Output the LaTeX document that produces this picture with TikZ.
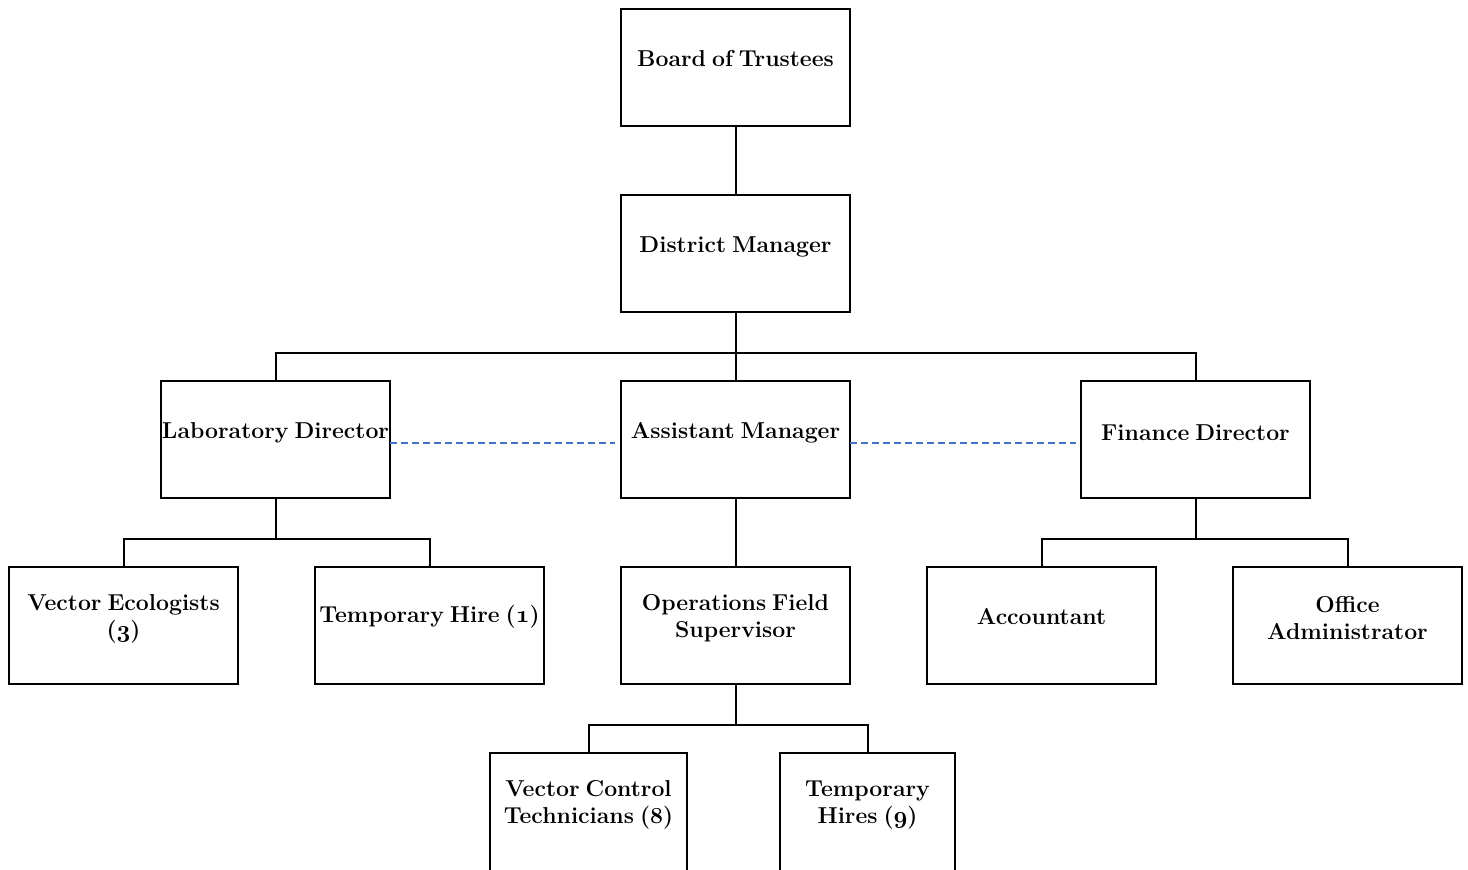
\documentclass[tikz,border=0pt]{standalone}
\usetikzlibrary{positioning}
\definecolor{liaisonblue}{RGB}{68,114,196}
\newcommand\osnum[1]{{\usefont{OML}{cmm}{b}{it}#1}}
\newcommand\tightwords{\spaceskip=0.26em plus 0.1em\relax}
\begin{document}
\begin{tikzpicture}[
	x=0.5pt, y=-0.5pt,
	line width=1pt,
	unit/.style={draw, minimum width=114.5pt, minimum height=58.5pt,
		inner sep=0pt, outer sep=0pt},
	caption/.style={font=\fontsize{11.5}{13.5}\selectfont\bfseries,
		execute at begin node=\tightwords,
		align=center, inner sep=0pt, yshift=3.5pt},
	liaison/.style={draw=liaisonblue, line width=0.9pt,
		dash pattern=on 3.5pt off 2pt}]
\path[use as bounding box, clip] (0,0) rectangle (1468,869);
% top of the chart
\node[unit, label={[caption, yshift=1pt]center:Board of Trustees}] (board) at (735.5,67.5) {};
\node[unit, below=34.5pt of board, label={[caption]center:District Manager}] (district) {};
% directors
\node[unit, below=34.5pt of district, label={[caption]center:Assistant Manager}] (assistant) {};
\node[unit, left=115.5pt of assistant, label={[caption]center:Laboratory Director}] (lab) {};
\node[unit, right=115.5pt of assistant, label={[caption]center:Finance Director}] (finance) {};
% staff
\node[unit, below=34.5pt of assistant, label={[caption]center:{Operations Field\\Supervisor}}] (ops) {};
\node[unit, left=38.5pt of ops, label={[caption, yshift=1pt]center:Temporary Hire (\osnum{1})}] (temp) {};
\node[unit, left=38.5pt of temp, label={[caption]center:{Vector Ecologists\\(\osnum{3})}}] (ecol) {};
\node[unit, right=38.5pt of ops, label={[caption, yshift=1pt]center:Accountant}] (account) {};
\node[unit, right=38.5pt of account, label={[caption]center:{Office\\Administrator}}] (office) {};
% field crews
\node[unit, anchor=north, minimum width=98.5pt, minimum height=70pt,
	label={[caption, yshift=5.5pt]center:{Vector Control\\Technicians (8)}}] (techs) at (588.5,753) {};
\node[unit, anchor=north, minimum width=87.5pt, minimum height=70pt,
	label={[caption, yshift=5.5pt]center:{Temporary\\Hires (\osnum{9})}}] (hires) at (867.5,753) {};
% forks
\coordinate[below=20.5pt of district] (topfork);
\coordinate[below=20.5pt of lab] (labfork);
\coordinate[below=20.5pt of finance] (finfork);
\coordinate[below=20.5pt of ops] (opsfork);
\draw (board) -- (district);
\draw (district) -- (assistant);
\draw (lab.north) |- (topfork) -| (finance.north);
\draw (assistant) -- (ops);
\draw (lab) -- (labfork);
\draw (ecol.north) |- (labfork) -| (temp.north);
\draw (finance) -- (finfork);
\draw (account.north) |- (finfork) -| (office.north);
\draw (ops) -- (opsfork);
\draw (techs.north) |- (opsfork) -| (hires.north);
% dotted liaisons
\draw[liaison] ([yshift=-1.75pt]lab.east) -- ([xshift=-3pt,yshift=-1.75pt]assistant.west);
\draw[liaison] ([yshift=-1.75pt]assistant.east) -- ([xshift=-2.5pt,yshift=-1.75pt]finance.west);
\end{tikzpicture}
\end{document}
